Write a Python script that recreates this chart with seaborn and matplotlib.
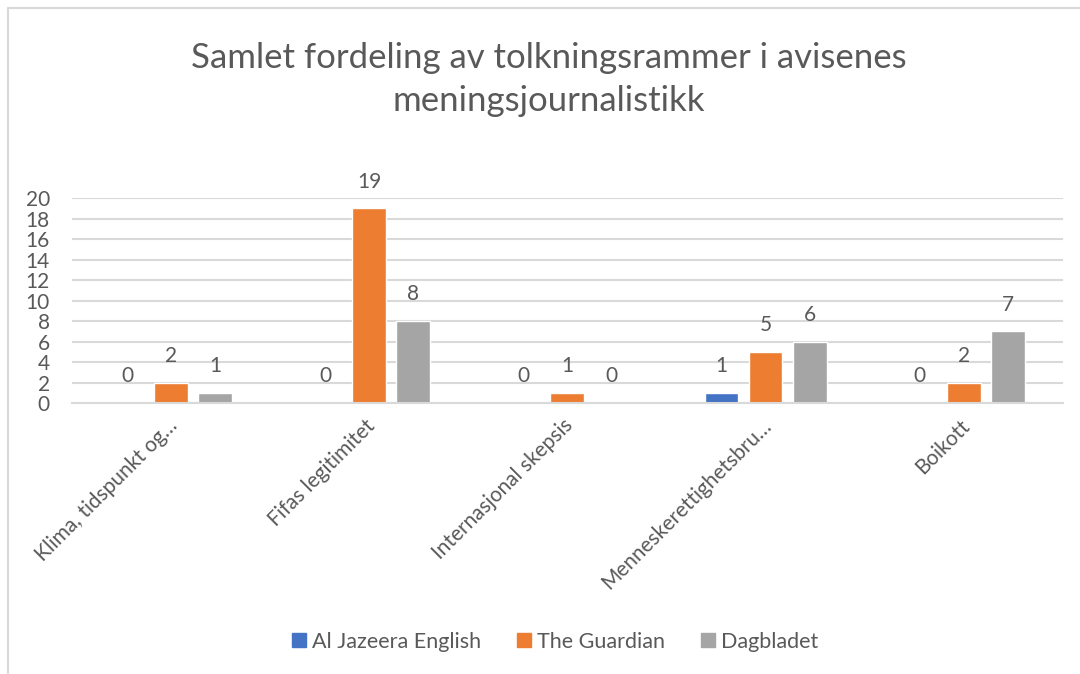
import pandas as pd
import matplotlib.pyplot as plt
import seaborn as sns
from matplotlib.lines import Line2D
from matplotlib.transforms import ScaledTranslation

# Kategorier og verdier lest av diagrammet
KATEGORIER = [
    "Klima, tidspunkt og…",
    "Fifas legitimitet",
    "Internasjonal skepsis",
    "Menneskerettighetsbru…",
    "Boikott",
]
AL_JAZEERA = [0, 0, 0, 1, 0]
GUARDIAN = [2, 19, 1, 5, 2]
DAGBLADET = [1, 8, 0, 6, 7]
AVISER = ["Al Jazeera English", "The Guardian", "Dagbladet"]
Y_TICKS = list(range(0, 21, 2))

FARGER = ["#4472C4", "#ED7D31", "#A5A5A5"]
TEKSTFARGE = "#595959"
GRID = "#D9D9D9"


def lag_data():
    rader = []
    for avis, verdier in zip(AVISER, [AL_JAZEERA, GUARDIAN, DAGBLADET]):
        for kat, v in zip(KATEGORIER, verdier):
            rader.append({"kategori": kat, "avis": avis, "antall": v})
    return pd.DataFrame(rader)


def tegn():
    sns.set_theme(style="white")
    plt.rcParams["font.family"] = ["Lato", "DejaVu Sans"]

    df = lag_data()

    fig = plt.figure(figsize=(10.8, 6.74), dpi=100)
    ax = fig.add_axes([0.0667, 0.402, 0.9173, 0.304])

    sns.barplot(
        data=df, x="kategori", y="antall", hue="avis",
        order=KATEGORIER, hue_order=AVISER, palette=FARGER,
        width=0.667, gap=0.23, saturation=1, ax=ax, legend=False,
    )

    ax.set_ylim(0, 20)
    ax.set_yticks(Y_TICKS)
    ax.set_xlabel("")
    ax.set_ylabel("")
    ax.yaxis.grid(True, color=GRID, linewidth=1.5)
    ax.set_axisbelow(True)
    for side in ["top", "right", "left"]:
        ax.spines[side].set_visible(False)
    ax.spines["bottom"].set_color(GRID)
    ax.spines["bottom"].set_linewidth(1.5)
    ax.tick_params(axis="both", length=0, labelsize=15, colors=TEKSTFARGE)
    ax.tick_params(axis="y", pad=16)
    ax.tick_params(axis="x", pad=14)

    # Skrae kategorinavn, hoyre ende ved gruppens midtpunkt
    forskyv = ScaledTranslation(2 / 72, 0, fig.dpi_scale_trans)
    for lbl in ax.get_xticklabels():
        lbl.set_rotation(45)
        lbl.set_horizontalalignment("right")
        lbl.set_verticalalignment("center")
        lbl.set_rotation_mode("anchor")
        lbl.set_transform(lbl.get_transform() + forskyv)

    # Verdier over stolpene
    for container in ax.containers:
        etiketter = ax.bar_label(container, fmt="%.0f", padding=12,
                                 fontsize=15, color=TEKSTFARGE)
        for t in etiketter:
            t.set_clip_on(False)

    # Tittel
    fig.text(0.508, 0.882, "Samlet fordeling av tolkningsrammer i avisenes\nmeningsjournalistikk",
             ha="center", va="center", fontsize=25, color=TEKSTFARGE, linespacing=1.45)

    # Legende nederst
    handles = [Line2D([], [], marker="s", linestyle="", markersize=10,
                      markerfacecolor=f, markeredgecolor=f) for f in FARGER]
    fig.legend(handles, AVISER, loc="center", bbox_to_anchor=(0.512, 0.048),
               ncol=3, frameon=False, fontsize=15.5, labelcolor=TEKSTFARGE,
               handletextpad=0.1, columnspacing=1.5, handlelength=1.0)

    # Ramme rundt diagramomraadet
    fig.add_artist(Line2D([8 / 1080, 1], [1 - 8 / 674, 1 - 8 / 674],
                          transform=fig.transFigure, color=GRID, linewidth=1.5))
    fig.add_artist(Line2D([8 / 1080, 8 / 1080], [0, 1 - 8 / 674],
                          transform=fig.transFigure, color=GRID, linewidth=1.5))

    fig.savefig("out.png", dpi=100, facecolor="white")
    plt.close(fig)


if __name__ == "__main__":
    tegn()
